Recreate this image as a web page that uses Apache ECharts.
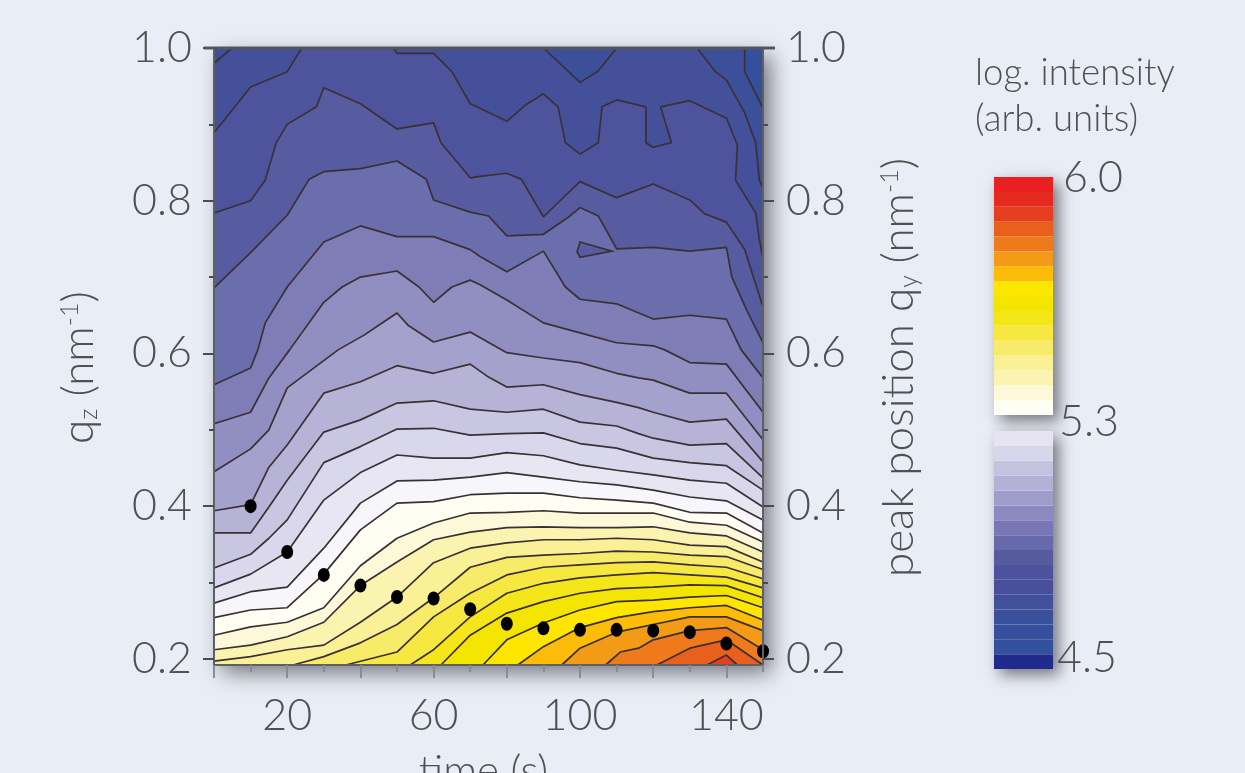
<!DOCTYPE html>
<html><head><meta charset="utf-8">
<style>html,body{margin:0;padding:0;background:#e9edf6;overflow:hidden}#c{width:1245px;height:773px}</style>
<script src="https://cdn.jsdelivr.net/npm/echarts@6/dist/echarts.min.js"></script>
</head><body><div id="c"></div>
<script>
const FONT='Lato';
const TEXT='#505050';
const yLabels=[0.2,0.4,0.6,0.8,1.0];
const yMinorTicks=[0.3,0.5,0.7,0.9];
const xLabels=[20,60,100,140];
const xMajorTicks=[0,20,40,60,80,100,120,140];
const xMinorTicks=[10,30,50,70,90,110,130,150];
const dots=[[10,.400],[20,.340],[30,.310],[40,.296],[50,.281],[60,.279],[70,.265],[80,.246],[90,.240],[100,.238],[110,.238],[120,.237],[130,.235],[140,.220],[150,.210]];
const c0=[[0,1],[145,1],[145,.969],[150,.921]];
const c1=[[0,.980],[5,1],[90,1],[100,.955],[105,.970],[110,1],[132,1],[137,.969],[140,.958],[145,.915],[148,.876],[149,.827],[150,.817]];
const c2=[[0,.889],[10,.949],[20,.969],[24,1],[49,1],[50,.993],[60,.993],[65,.969],[70,.927],[72.7,.921],[80,.904],[85,.925],[90,.940],[94,.923],[96,.876],[100,.861],[105,.876],[106,.923],[110,.932],[118,.923],[118,.876],[120,.870],[125,.876],[122,.923],[130,.931],[140,.908],[143,.873],[142.5,.827],[148,.784],[149,.749],[150,.725]];
const c3=[[0,.784],[10,.800],[14,.827],[17,.876],[20,.900],[28,.923],[30,.948],[40,.927],[50,.894],[60,.902],[62,.876],[70,.830],[72.7,.832],[80,.836],[84,.828],[90,.779],[100,.825],[110,.804],[120,.822],[130,.801],[134,.783],[140,.772],[145,.736],[148.5,.683],[150,.661]];
const c4=[[0,.686],[10,.732],[20,.781],[26,.828],[30,.838],[40,.842],[50,.852],[58,.828],[60,.801],[70,.785],[75,.780],[80,.754],[90,.756],[97,.779],[100,.791],[105,.780],[110,.737],[120,.739],[130,.734],[140,.739],[141.5,.700],[145.5,.657],[150,.614]];
const pocket=[[100,.746],[108.7,.734],[100,.726],[99.2,.733]];
const c5=[[0,.559],[10,.581],[12,.605],[14,.640],[20,.687],[30,.746],[40,.767],[50,.753],[60,.753],[70,.736],[72.7,.727],[80,.707],[90,.734],[96,.687],[100,.671],[110,.665],[120,.645],[130,.650],[140,.645],[144,.605],[150,.568]];
const c6=[[0,.508],[10,.523],[15,.568],[20.7,.605],[30,.667],[35,.687],[40,.700],[50,.708],[56,.687],[60,.667],[65,.687],[70,.696],[72.7,.690],[80,.670],[90,.640],[100,.627],[110,.614],[120,.610],[123,.605],[130,.588],[140,.586],[150,.523]];
const c7=[[0,.445],[10,.475],[15,.500],[20,.555],[34,.605],[41,.624],[45,.637],[50,.653],[53,.637],[60,.615],[70,.628],[73,.620],[80,.601],[90,.594],[100,.588],[110,.574],[116,.568],[120,.565],[130,.548],[140,.548],[150,.487]];
const c8=[[0,.394],[10,.402],[15,.451],[20,.480],[30,.548],[40,.563],[50,.584],[60,.574],[70,.586],[75,.569],[80,.556],[90,.559],[100,.546],[110,.536],[116,.529],[120,.523],[130,.510],[140,.514],[150,.458]];
const c9=[[0,.365],[10,.365],[15,.399],[20,.434],[30,.497],[40,.513],[50,.535],[60,.538],[70,.527],[80,.523],[90,.527],[100,.510],[110,.505],[116,.495],[120,.489],[130,.480],[140,.482],[150,.437]];
const c10=[[0,.319],[10,.337],[15,.358],[20,.382],[30,.457],[40,.478],[50,.501],[60,.502],[70,.493],[80,.495],[90,.496],[100,.482],[110,.476],[120,.463],[130,.457],[140,.453],[150,.421]];
const c11=[[0,.293],[10,.311],[20,.340],[30,.408],[40,.444],[50,.467],[60,.463],[70,.463],[80,.470],[90,.466],[100,.454],[110,.447],[120,.441],[130,.434],[140,.430],[150,.399]];
const c12=[[0,.273],[10,.288],[20,.294],[30,.345],[40,.404],[50,.433],[60,.434],[70,.438],[80,.444],[90,.438],[100,.432],[110,.428],[120,.421],[130,.412],[140,.407],[150,.382]];
const c13=[[0,.254],[10,.264],[20,.267],[30,.311],[40,.369],[50,.404],[60,.406],[70,.415],[80,.417],[90,.417],[100,.411],[110,.408],[120,.404],[130,.392],[140,.391],[150,.365]];
const c14=[[0,.231],[10,.242],[20,.248],[30,.267],[40,.322],[50,.358],[60,.378],[70,.391],[80,.392],[90,.394],[100,.391],[110,.391],[120,.391],[130,.379],[140,.375],[150,.353]];
const c15=[[0,.212],[10,.218],[20,.229],[30,.248],[40,.296],[50,.327],[60,.356],[70,.366],[80,.372],[90,.373],[100,.372],[110,.372],[120,.373],[130,.365],[140,.361],[150,.340]];
const c16=[[0,.197],[10,.203],[20,.212],[30,.218],[40,.248],[50,.281],[60,.326],[70,.345],[80,.352],[90,.356],[100,.356],[110,.358],[120,.356],[130,.349],[140,.347],[150,.327]];
const c17=[[21.6,.192],[30,.203],[40,.221],[50,.245],[60,.280],[70,.320],[80,.333],[90,.336],[100,.338],[110,.341],[120,.340],[130,.336],[140,.334],[150,.317]];
const c18=[[36,.192],[50,.209],[60,.255],[70,.286],[80,.310],[90,.320],[100,.323],[110,.326],[120,.327],[130,.323],[140,.320],[150,.305]];
const c19=[[53.6,.192],[60,.212],[70,.255],[80,.286],[90,.299],[100,.306],[110,.310],[120,.313],[130,.310],[140,.307],[150,.293]];
const c20=[[62,.192],[70,.231],[80,.260],[90,.275],[100,.286],[110,.292],[120,.294],[130,.297],[140,.296],[150,.280]];
const c21=[[73.5,.192],[80,.225],[90,.247],[100,.264],[110,.275],[120,.277],[130,.281],[140,.283],[150,.267]];
const c22=[[83,.192],[90,.216],[100,.241],[110,.254],[120,.262],[130,.267],[140,.270],[150,.251]];
const c23=[[95,.192],[100,.214],[110,.235],[120,.245],[130,.255],[140,.255],[150,.237]];
const c24=[[107,.192],[111,.209],[116,.214],[120,.225],[130,.237],[140,.241],[150,.212]];
const c25=[[121,.192],[130,.214],[140,.225],[150,.192]];
const c26=[[134.7,.192],[140,.205],[143,.192]];
const contours=[c0,c1,c2,c3,c4,c5,c6,c7,c8,c9,c10,c11,c12,c13,c14,c15,c16,c17,c18,c19,c20,c21,c22,c23,c24,c25,c26];
const fills=['#3b4f9b','#45509b','#4d549d','#575b9f','#6a6eac','#7e7db6','#918fc2','#a4a1cd','#b6b3d7','#c8c6e1','#d9d7eb','#e7e6f2','#f6f6fb','#fffef2','#fdf9d8','#faf4b0','#faf096','#f7eb69','#f6e840','#f5e61a','#f3e500','#ffe600','#fcbc08','#f39a17','#ee7a1b','#e8601c','#e5401d'];
const warmBands=['#e8201f','#e62a20','#e5401d','#e8601c','#ee7a1b','#f39a17','#fcbc08','#ffe600','#f3e500','#f5e61a','#f6e840','#f7eb69','#faf096','#faf4b0','#fdf9d8','#fffef2'];
const coolBands=['#e6e4f0','#d8d6ea','#c6c3e0','#b4b1d6','#9e9ccb','#8a8abe','#7876b4','#6769aa','#565a9e','#4c529c','#48509b','#42509b','#3a509b','#36509c','#33509c','#1f2a8c'];
const scaleLabels=['6.0','5.3','4.5'];

const lineColor='#3a3035';
const axisCol='#5f6066';
function contourSeries(pts,fill){return {type:'line',data:pts,xAxisIndex:0,yAxisIndex:0,showSymbol:false,symbol:'none',silent:true,clip:true,
  lineStyle:{color:lineColor,width:1.7},areaStyle:{color:fill,opacity:1,origin:'start'},animation:false};}
const series=[];
contours.forEach((pts,i)=>{
  series.push(contourSeries(pts,fills[i]));
  if(pts===c4){series.push({type:'custom',coordinateSystem:'cartesian2d',xAxisIndex:0,yAxisIndex:0,data:[pocket[0]],encode:{x:0,y:1},z:4,clip:false,silent:true,animation:false,
    renderItem:(p,api)=>({type:'polygon',shape:{points:pocket.map(q=>api.coord(q))},style:{fill:fills[3],stroke:lineColor,lineWidth:1.7}})});}
});
series.push({type:'scatter',data:dots,xAxisIndex:0,yAxisIndex:0,symbol:'circle',symbolSize:[12,14],clip:true,itemStyle:{color:'#000',opacity:1},silent:true,animation:false,z:5});
function bandSeries(cols,gi){return cols.map(c=>({type:'bar',xAxisIndex:gi+1,yAxisIndex:gi+3,stack:'s'+gi,data:[1],barWidth:'100%',itemStyle:{color:c},silent:true,animation:false}));}
series.push(...bandSeries(warmBands.slice().reverse(),1),...bandSeries(coolBands.slice().reverse(),2));

const labelStyle={color:TEXT,fontFamily:FONT,fontSize:43,fontWeight:300};
const nameStyle={color:TEXT,fontFamily:FONT,fontSize:44,fontWeight:300};
const rich={s:{fontFamily:FONT,fontSize:25,fontWeight:300,color:TEXT,verticalAlign:'bottom',padding:[14,0,0,0]},
            u:{fontFamily:FONT,fontSize:25,fontWeight:300,color:TEXT,verticalAlign:'top',padding:[0,0,12,0]},
            b:{fontFamily:FONT,fontSize:44,fontWeight:300,color:TEXT}};
const yline={show:true,onZero:false,lineStyle:{color:axisCol,width:2}};
function yAx(pos){return {type:'value',gridIndex:0,position:pos,min:.192,max:1,z:10,splitLine:{show:false},axisLine:yline};}
const option={
 backgroundColor:'#e9edf6',animation:false,
 grid:[
  {left:214,top:48,width:549,height:617,outerBoundsMode:'none',show:true,backgroundColor:'#34509c',borderWidth:0,shadowBlur:20,shadowColor:'rgba(40,40,50,.6)',shadowOffsetX:8,shadowOffsetY:8},
  {left:994,top:177,width:59,height:238,outerBoundsMode:'none',show:true,backgroundColor:'#fff',borderWidth:0,shadowBlur:14,shadowColor:'rgba(40,40,50,.6)',shadowOffsetX:6,shadowOffsetY:6},
  {left:994,top:431,width:59,height:238,outerBoundsMode:'none',show:true,backgroundColor:'#fff',borderWidth:0,shadowBlur:14,shadowColor:'rgba(40,40,50,.6)',shadowOffsetX:6,shadowOffsetY:6}
 ],
 xAxis:[
  {type:'value',gridIndex:0,position:'bottom',min:0,max:150,z:10,splitLine:{show:false},axisLine:{show:true,onZero:false,lineStyle:{color:axisCol,width:2}},
   axisTick:{show:true,customValues:xMajorTicks,length:13,lineStyle:{color:'#8a8b90',width:2}},
   axisLabel:{show:true,customValues:xLabels,margin:30,formatter:v=>String(v),...labelStyle},
   name:'time (s)',nameLocation:'middle',nameGap:85,nameTextStyle:{...nameStyle,fontSize:42,padding:[0,10,0,0]}},
  {type:'value',gridIndex:0,position:'bottom',min:0,max:150,z:10,splitLine:{show:false},axisLine:{show:false,onZero:false},
   axisTick:{show:true,customValues:xMinorTicks,length:7,lineStyle:{color:'#8a8b90',width:2}},axisLabel:{show:false}},
  {type:'category',gridIndex:1,data:['a'],show:false},
  {type:'category',gridIndex:2,data:['a'],show:false}
 ],
 yAxis:[
  {...yAx('left'),axisTick:{show:true,customValues:yLabels,length:11,lineStyle:{color:'#4a4a50',width:2}},
   axisLabel:{show:true,customValues:yLabels,margin:22,formatter:v=>v.toFixed(1),...labelStyle},
   name:'{b|q}{s|z}{b| (nm}{u|-1}{b|)}',nameLocation:'middle',nameGap:113,nameRotate:90,nameTextStyle:{...nameStyle,rich,padding:[0,22,0,0]}},
  {...yAx('right'),axisTick:{show:true,customValues:yLabels,length:11,lineStyle:{color:'#4a4a50',width:2}},
   axisLabel:{show:true,customValues:yLabels,margin:23,formatter:v=>v.toFixed(1),...labelStyle},
   name:'{b|peak position q}{s|y}{b| (nm}{u|-1}{b|)}',nameLocation:'middle',nameGap:114,nameRotate:90,nameTextStyle:{...nameStyle,rich,padding:[0,22,0,0]}},
  {...yAx('left'),axisLine:{show:false,onZero:false},axisTick:{show:true,customValues:yMinorTicks,length:5,lineStyle:{color:'#4a4a50',width:2}},axisLabel:{show:false}},
  {...yAx('right'),axisLine:{show:false,onZero:false},axisTick:{show:true,customValues:yMinorTicks,length:5,lineStyle:{color:'#4a4a50',width:2}},axisLabel:{show:false}},
  {type:'value',gridIndex:1,min:0,max:16,show:false},
  {type:'value',gridIndex:2,min:0,max:16,show:false}
 ],
 graphic:[
  {type:'line',z:20,shape:{x1:204,y1:48,x2:775,y2:48},style:{stroke:'#55565c',lineWidth:3}},
  {type:'text',left:975,top:55,style:{text:'log. intensity',fill:TEXT,font:'300 36.6px '+FONT}},
  {type:'text',left:975,top:101,style:{text:'(arb. units)',fill:TEXT,font:'300 36.6px '+FONT}},
  {type:'text',left:1063,top:157,style:{text:scaleLabels[0],fill:TEXT,font:'300 43px '+FONT}},
  {type:'text',left:1059,top:401,style:{text:scaleLabels[1],fill:TEXT,font:'300 43px '+FONT}},
  {type:'text',left:1057,top:637,style:{text:scaleLabels[2],fill:TEXT,font:'300 43px '+FONT}}
 ],
 series
};
const chart=echarts.init(document.getElementById('c'),null,{renderer:'canvas',width:1245,height:773});
chart.setOption(option);
</script></body></html>
